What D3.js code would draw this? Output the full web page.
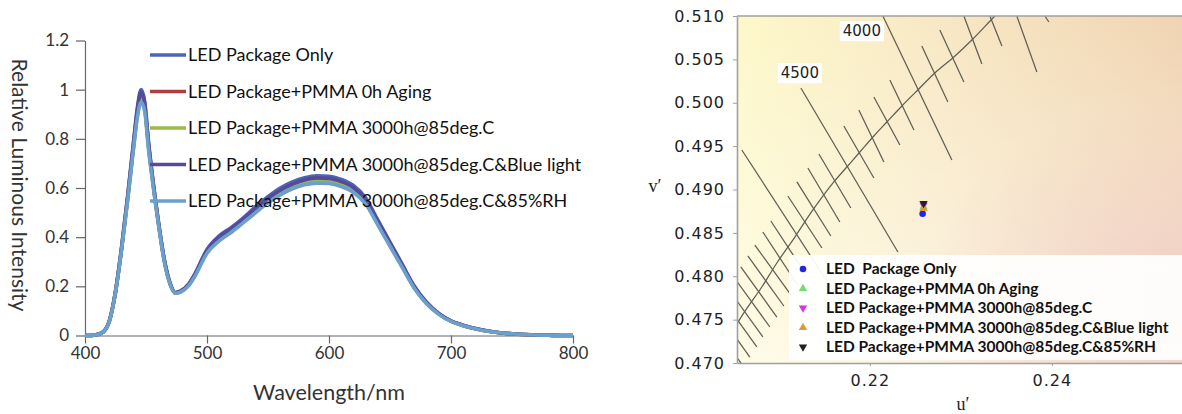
<!DOCTYPE html>
<html><head><meta charset="utf-8">
<script src="https://cdn.jsdelivr.net/npm/d3@7"></script>
<style>html,body{margin:0;padding:0;background:#fff;} svg{display:block;}</style>
</head><body><svg id="c" width="1182" height="414"></svg>
<script>
// ---------------- DATA: left chart (spectra) ----------------
const seriesNames = ["LED Package Only","LED Package+PMMA 0h Aging","LED Package+PMMA 3000h@85deg.C","LED Package+PMMA 3000h@85deg.C&Blue light","LED Package+PMMA 3000h@85deg.C&85%RH"];
const seriesColors = ["#4c66b4","#b03e3e","#9abb4a","#564a9c","#6aa0cb"];
const wavelengths = [400,405,410,415,420,425,430,435,440,443,446,449,452,455,460,465,470,474,478,485,490,500,510,520,530,540,550,560,570,580,590,600,610,620,630,640,650,660,670,680,690,700,710,720,730,740,750,760,770,780,790,800];
const specOnly = [0,0,0.004,0.015,0.06,0.18,0.36,0.57,0.8,0.93,1.0,0.95,0.79,0.66,0.47,0.31,0.21,0.175,0.18,0.21,0.25,0.35,0.405,0.44,0.48,0.525,0.565,0.6,0.625,0.642,0.65,0.648,0.635,0.61,0.56,0.47,0.38,0.29,0.2,0.135,0.09,0.06,0.042,0.028,0.018,0.011,0.007,0.004,0.002,0.001,0,0];
const spec0h = [0,0,0.004,0.015,0.059,0.177,0.354,0.56,0.78,0.905,0.97,0.925,0.775,0.65,0.464,0.305,0.207,0.173,0.178,0.206,0.245,0.341,0.393,0.428,0.467,0.51,0.549,0.582,0.606,0.623,0.631,0.629,0.616,0.592,0.544,0.457,0.369,0.282,0.195,0.131,0.088,0.058,0.041,0.027,0.018,0.011,0.007,0.004,0.002,0.001,0,0];
const spec3000 = [0,0,0.004,0.015,0.059,0.176,0.352,0.556,0.775,0.9,0.96,0.92,0.77,0.647,0.463,0.304,0.206,0.173,0.177,0.205,0.244,0.339,0.391,0.426,0.465,0.507,0.546,0.579,0.603,0.62,0.628,0.626,0.613,0.589,0.541,0.455,0.367,0.28,0.194,0.13,0.087,0.058,0.04,0.027,0.017,0.011,0.007,0.004,0.002,0.001,0,0];
const specBlue = [0,0,0.004,0.015,0.06,0.178,0.357,0.565,0.79,0.92,0.99,0.94,0.785,0.655,0.467,0.308,0.208,0.174,0.179,0.208,0.248,0.346,0.4,0.435,0.474,0.518,0.557,0.591,0.616,0.633,0.641,0.639,0.626,0.602,0.553,0.464,0.375,0.286,0.198,0.133,0.089,0.059,0.041,0.028,0.018,0.011,0.007,0.004,0.002,0.001,0,0];
const specRH = [0,0,0.004,0.015,0.058,0.175,0.35,0.55,0.77,0.89,0.95,0.91,0.76,0.64,0.46,0.3,0.205,0.172,0.176,0.203,0.24,0.335,0.385,0.42,0.46,0.5,0.54,0.572,0.597,0.613,0.62,0.618,0.606,0.582,0.535,0.45,0.363,0.277,0.191,0.129,0.086,0.057,0.04,0.027,0.017,0.011,0.007,0.004,0.002,0.001,0,0];
const specYTicks = [0,0.2,0.4,0.6,0.8,1.0,1.2];
const specYTickLabels = ["0","0.2","0.4","0.6","0.8","1","1.2"];
const specXTicks = [400,500,600,700,800];

// ---------------- DATA: right chart (u'v') ----------------
const pointNames = ["LED  Package Only","LED Package+PMMA 0h Aging","LED Package+PMMA 3000h@85deg.C","LED Package+PMMA 3000h@85deg.C&Blue light","LED Package+PMMA 3000h@85deg.C&85%RH"];
const pointColors = ["#2424e6","#6fe06f","#d234e0","#e0983a","#222222"];
const pointShapes = ["circle","up","down","up","down"];
const pointU = [0.2258,0.2259,0.2259,0.2259,0.2259];
const pointV = [0.4872,0.4880,0.4882,0.4878,0.4884];
const uvYTicks = [0.470,0.475,0.480,0.485,0.490,0.495,0.500,0.505,0.510];
const uvXTicks = [0.22,0.24];
const locusU = [0.20374,0.20516,0.20659,0.20813,0.20978,0.21176,0.21374,0.21604,0.21747,0.21890,0.22044,0.22187,0.22352,0.22538,0.22714,0.22923,0.23121,0.23363,0.23484];
const locusV = [0.47185,0.47415,0.47646,0.47876,0.48153,0.48452,0.48764,0.49087,0.49259,0.49432,0.49617,0.49778,0.49963,0.50159,0.50343,0.50527,0.50723,0.50988,0.51115];
const isoT  = [3400,3500,3600,3700,3800,3900,4000,4100,4200,4300,4400,4500,4600,4700,4800,4900,5000,5100,5200,5300,5400,5500,5600,5700,5800,5900,6000];
const isoU1 = [0.23923,0.23615,0.23319,0.23033,0.22769,0.22571,0.22143,0.22220,0.22044,0.21879,0.21714,0.21242,0.21440,0.21319,0.21198,0.21099,0.20593,0.20912,0.20824,0.20736,0.20659,0.20582,0.20505,0.20429,0.20363,0.20286,0.20220];
const isoV1 = [0.5100,0.5100,0.5100,0.5100,0.50839,0.50654,0.5100,0.50262,0.50066,0.49916,0.49732,0.50170,0.49409,0.49248,0.49087,0.48925,0.49455,0.48637,0.48510,0.48360,0.48234,0.48107,0.47991,0.47876,0.47761,0.47646,0.47530];
const isoU2 = [0.23967,0.23835,0.23451,0.23231,0.23033,0.22857,0.22901,0.22484,0.22330,0.22154,0.22044,0.22308,0.21791,0.21670,0.21571,0.21473,0.21791,0.21286,0.21198,0.21132,0.21055,0.20978,0.20901,0.20824,0.20758,0.20681,0.20615];
const isoV2 = [0.50931,0.50354,0.50654,0.50447,0.50239,0.50009,0.49340,0.49686,0.49513,0.49317,0.49133,0.48280,0.48787,0.48625,0.48464,0.48326,0.47519,0.48038,0.47911,0.47784,0.47657,0.47530,0.47415,0.47300,0.47185,0.47069,0.46954];
const isoLabels = ["4000","4500"];
const isoLabelU = [0.21912,0.21231];
const isoLabelV = [0.50827,0.50343];

// ---------------- DRAW ----------------
const svg = d3.select('#c');
const FONT = 'Lato, "Open Sans", sans-serif';
const spectra = [specOnly, spec0h, spec3000, specBlue, specRH];

// Left chart
const xL = d3.scaleLinear().domain([400,800]).range([85,573]);
const yL = d3.scaleLinear().domain([0,1.2]).range([335.5,40.5]);
const gL = svg.append('g');

const ay = gL.append('g').attr('transform','translate(85,0)')
  .call(d3.axisLeft(yL).tickValues(specYTicks).tickFormat((d,i)=>specYTickLabels[i]).tickSize(9).tickSizeOuter(0).tickPadding(7));
const ax = gL.append('g').attr('transform','translate(0,335.5)')
  .call(d3.axisBottom(xL).tickValues(specXTicks).tickFormat(d3.format('d')).tickSize(8).tickSizeOuter(0).tickPadding(3));
[ay,ax].forEach(a=>{
  a.select('.domain').attr('stroke','#666').attr('stroke-width',1.2);
  a.selectAll('.tick line').attr('stroke','#666').attr('stroke-width',1.2);
  a.selectAll('.tick text').attr('fill','#333').style('font-family',FONT).style('font-size','17px');
});

const lineL = d3.line().x((d,i)=>xL(wavelengths[i])).y(d=>yL(d)).curve(d3.curveMonotoneX);
spectra.forEach((s,k)=>{
  gL.append('path').datum(s).attr('d',lineL).attr('fill','none')
    .attr('stroke',seriesColors[k]).attr('stroke-width',3.6).attr('stroke-linejoin','round');
});

// left legend
seriesNames.forEach((n,k)=>{
  const y = 55 + k*36.5;
  gL.append('line').attr('x1',150).attr('x2',186).attr('y1',y).attr('y2',y)
    .attr('stroke',seriesColors[k]).attr('stroke-width',3.6);
  gL.append('text').attr('x',188).attr('y',y).attr('dy','0.35em').text(n)
    .attr('fill','#111').style('font-family',FONT).style('font-size','18px');
});

gL.append('text').attr('transform','translate(19,185) rotate(90)').attr('text-anchor','middle').attr('dy','0.35em')
  .text('Relative Luminous Intensity').attr('fill','#333').style('font-family',FONT).style('font-size','21px');
gL.append('text').attr('x',329).attr('y',392).attr('text-anchor','middle').attr('dy','0.35em')
  .text('Wavelength/nm').attr('fill','#333').style('font-family',FONT).style('font-size','21.5px');

// Right chart
const xR = d3.scaleLinear().domain([0.2054,0.2543]).range([737,1182]);
const yR = d3.scaleLinear().domain([0.470,0.510]).range([363,16]);
const gR = svg.append('g');
const defs = svg.append('defs');
defs.append('clipPath').attr('id','clipR').append('rect')
  .attr('x',737).attr('y',16).attr('width',445).attr('height',347);
const gh = defs.append('linearGradient').attr('id','gH').attr('x1','0').attr('y1','0').attr('x2','1').attr('y2','0');
gh.append('stop').attr('offset','0%').attr('stop-color','#fdf8c9');
gh.append('stop').attr('offset','45%').attr('stop-color','#f8e8c4');
gh.append('stop').attr('offset','100%').attr('stop-color','#f0d4b2');
const gv = defs.append('linearGradient').attr('id','gV').attr('x1','0').attr('y1','0').attr('x2','0').attr('y2','1');
gv.append('stop').attr('offset','0%').attr('stop-color','#ffffff').attr('stop-opacity',0);
gv.append('stop').attr('offset','100%').attr('stop-color','#ffffff').attr('stop-opacity',0.55);
const gp = defs.append('radialGradient').attr('id','gP').attr('cx','1').attr('cy','0.85').attr('r','0.6');
gp.append('stop').attr('offset','0%').attr('stop-color','#eec4be').attr('stop-opacity',0.7);
gp.append('stop').attr('offset','100%').attr('stop-color','#eec4be').attr('stop-opacity',0);

const plotR = gR.append('g').attr('clip-path','url(#clipR)');
['url(#gH)','url(#gV)','url(#gP)'].forEach(f=>{
  plotR.append('rect').attr('x',737).attr('y',16).attr('width',445).attr('height',347).attr('fill',f);
});

const locus = locusU.map((u,i)=>[u,locusV[i]]);
plotR.append('path').datum(locus)
  .attr('d',d3.line().x(d=>xR(d[0])).y(d=>yR(d[1])).curve(d3.curveCatmullRom))
  .attr('fill','none').attr('stroke','#5f5f55').attr('stroke-width',1.25);
isoT.forEach((t,i)=>{
  plotR.append('line').attr('x1',xR(isoU1[i])).attr('y1',yR(isoV1[i]))
    .attr('x2',xR(isoU2[i])).attr('y2',yR(isoV2[i]))
    .attr('stroke','#5f5f55').attr('stroke-width',1.25);
});
isoLabels.forEach((l,i)=>{
  const t = plotR.append('text').attr('x',xR(isoLabelU[i])).attr('y',yR(isoLabelV[i]))
    .attr('text-anchor','middle').attr('dy','0.35em').text(l)
    .attr('fill','#222').style('font-family','"DejaVu Sans", Verdana, sans-serif').style('font-size','15px');
  const b = t.node().getBBox();
  plotR.insert('rect','text').attr('x',b.x-3).attr('y',b.y-1).attr('width',b.width+6).attr('height',b.height+2).attr('fill','#fff');
});

function sym(shape){
  if(shape==='circle') return d3.symbol().type(d3.symbolCircle).size(34)();
  return d3.symbol().type(d3.symbolTriangle).size(30)();
}
pointU.forEach((u,i)=>{
  plotR.append('path').attr('d',sym(pointShapes[i]))
    .attr('transform',`translate(${xR(u)},${yR(pointV[i])})${pointShapes[i]==='down'?' rotate(180)':''}`)
    .attr('fill',pointColors[i]);
});

// right legend
gR.append('rect').attr('x',789).attr('y',255).attr('width',393).attr('height',105).attr('fill','#fff').attr('fill-opacity',0.93);
pointNames.forEach((n,i)=>{
  const y = 269 + i*19.5;
  gR.append('path').attr('d',sym(pointShapes[i]))
    .attr('transform',`translate(803,${y})${pointShapes[i]==='down'?' rotate(180)':''}`)
    .attr('fill',pointColors[i]);
  gR.append('text').attr('x',826).attr('y',y).attr('dy','0.35em').text(n)
    .style('white-space','pre').attr('fill','#111').style('font-family',FONT).style('font-weight','bold').style('font-size','15.5px');
});

// right axes
const ayR = gR.append('g').attr('transform','translate(737,0)')
  .call(d3.axisLeft(yR).tickValues(uvYTicks).tickFormat(d3.format('.3f')).tickSize(4).tickSizeOuter(0).tickPadding(8));
const axR = gR.append('g').attr('transform','translate(0,363)')
  .call(d3.axisBottom(xR).tickValues(uvXTicks).tickFormat(d3.format('.2f')).tickSize(3).tickSizeOuter(0).tickPadding(9));
[ayR,axR].forEach(a=>{
  a.select('.domain').attr('stroke','#a0a0a0').attr('stroke-width',1.6);
  a.selectAll('.tick line').attr('stroke','#a0a0a0');
  a.selectAll('.tick text').attr('fill','#222').style('font-family','"DejaVu Sans", Verdana, sans-serif').style('font-size','16px').style('letter-spacing','1px');
});
gR.append('line').attr('x1',737).attr('x2',1182).attr('y1',16).attr('y2',16).attr('stroke','#a0a0a0').attr('stroke-width',1.6);

gR.append('text').attr('x',963).attr('y',404).attr('text-anchor','middle').attr('dy','0.35em').text('u′')
  .attr('fill','#222').style('font-family','"Liberation Serif", serif').style('font-size','18px');
gR.append('text').attr('x',655).attr('y',186).attr('text-anchor','middle').attr('dy','0.35em').text('v′')
  .attr('fill','#222').style('font-family','"Liberation Serif", serif').style('font-size','18px');
</script></body></html>
